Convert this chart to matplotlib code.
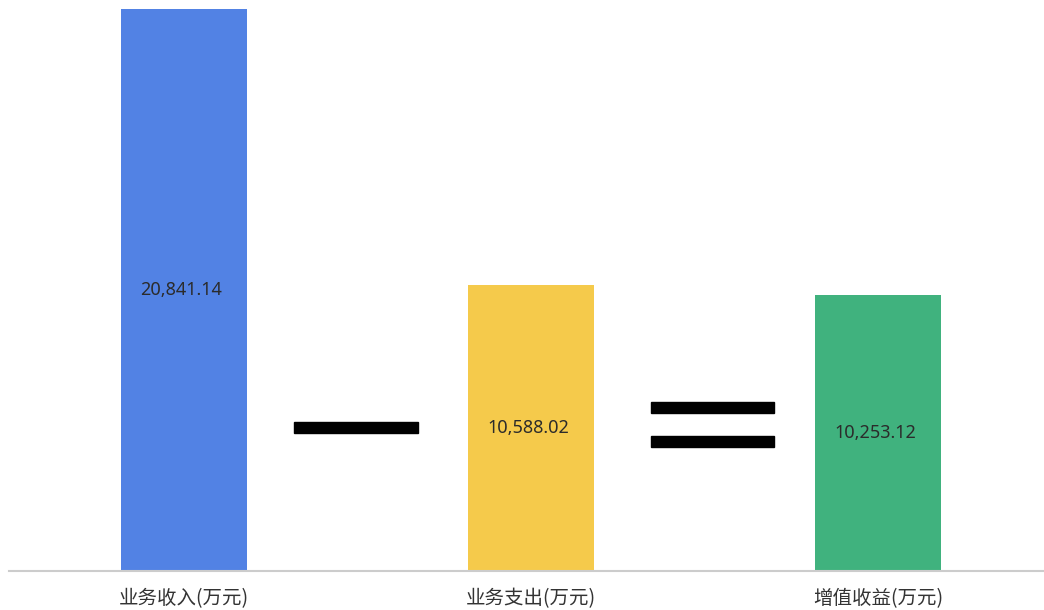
import matplotlib
matplotlib.use("Agg")
import matplotlib.pyplot as plt
import matplotlib.transforms as mtransforms
from matplotlib.patches import Rectangle

plt.rcParams['font.family'] = ['Noto Sans CJK SC', 'DejaVu Sans']

categories = ["业务收入(万元)", "业务支出(万元)", "增值收益(万元)"]
values = [20841.14, 10588.02, 10253.12]
value_labels = ["20,841.14", "10,588.02", "10,253.12"]
colors = ["#5282E4", "#F5CA4B", "#40B27E"]

fig = plt.figure(figsize=(10.44, 6.10), dpi=100)
ax = fig.add_axes([9 / 1044, 39 / 610, 1035 / 1044, 571 / 610])

x = list(range(len(categories)))
bar_w = 0.363
ax.bar(x, values, width=bar_w, color=colors, zorder=2)

ymax = values[0] * 571 / 562
ax.set_xlim(-0.504, 2.478)
ax.set_ylim(0, ymax)

for xi, v, lab in zip(x, values, value_labels):
    ax.text(xi - 0.008, v / 2, lab, ha='center', va='center', fontsize=13,
            family=['Noto Sans', 'DejaVu Sans'], fontweight='light',
            color='#2b2b2b', zorder=3)

# operator symbols between bars
trans = mtransforms.blended_transform_factory(ax.transData, ax.transAxes)
sym_w = 0.356
sym_h = 11 / 571
# minus between bar 0 and bar 1
ax.add_patch(Rectangle((0.496 - sym_w / 2, 0.251 - sym_h / 2), sym_w, sym_h,
                       transform=trans, color='black', zorder=3))
# equals between bar 1 and bar 2
for yc in (0.286, 0.227):
    ax.add_patch(Rectangle((1.523 - sym_w / 2, yc - sym_h / 2), sym_w, sym_h,
                           transform=trans, color='black', zorder=3))

for s in ['top', 'right', 'left']:
    ax.spines[s].set_visible(False)
ax.spines['bottom'].set_color('#cccccc')
ax.spines['bottom'].set_linewidth(1.5)
ax.set_yticks([])
ax.set_xticks(x)
ax.set_xticklabels(categories, fontsize=14, color='#333333')
ax.tick_params(axis='x', length=0, pad=12)

fig.savefig("out.png", dpi=100)
